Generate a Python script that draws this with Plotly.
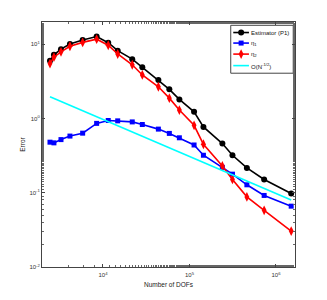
import plotly.graph_objects as go

dofs = [2440, 2710, 3270, 4150, 5820, 8450, 11500, 14800, 21800, 28500,
        43700, 58500, 76400, 113000, 145000, 240000, 314000, 461000, 730000, 1500000]
estimator = [6.0, 7.2, 8.6, 10.1, 11.4, 12.7, 10.5, 8.2, 6.3, 4.9,
             3.3, 2.47, 1.81, 1.23, 0.77, 0.46, 0.32, 0.216, 0.151, 0.0975]
eta1 = [0.48, 0.47, 0.52, 0.58, 0.635, 0.86, 0.94, 0.93, 0.90, 0.83,
        0.72, 0.63, 0.55, 0.44, 0.32, 0.22, 0.178, 0.128, 0.092, 0.066]
eta2 = [5.5, 6.7, 7.9, 9.4, 10.6, 11.7, 9.7, 7.4, 5.3, 3.86,
        2.68, 1.88, 1.30, 0.81, 0.45, 0.23, 0.151, 0.088, 0.058, 0.0305]
ref_x = [2440, 1500000]
ref_y = [1.96, 0.080]

series_names = ["Estimator (P1)", "η<sub>1</sub>", "η<sub>2</sub>", "O(N<sup>-1/2</sup>)"]
series_colors = ["black", "#0000ff", "#ff0000", "#00ffff"]
series_symbols = ["circle", "square", "diamond-tall", None]
series_sizes = [6, 5, 7, 0]

x_tickvals = [1e4, 1e5, 1e6]
x_ticktext = ["10<sup>4</sup>", "10<sup>5</sup>", "10<sup>6</sup>"]
y_tickvals = [1e-2, 1e-1, 1e0, 1e1]
y_ticktext = ["10<sup>-2</sup>", "10<sup>-1</sup>", "10<sup>0</sup>", "10<sup>1</sup>"]

FONT = "Liberation Sans, Arial, sans-serif"

fig = go.Figure()
data_y = [estimator, eta1, eta2]
for i in range(3):
    fig.add_trace(go.Scatter(x=dofs, y=data_y[i], mode="lines+markers", name=series_names[i],
                             line=dict(color=series_colors[i], width=1.6),
                             marker=dict(symbol=series_symbols[i], size=series_sizes[i],
                                         color=series_colors[i]),
                             showlegend=False))
fig.add_trace(go.Scatter(x=ref_x, y=ref_y, mode="lines", name=series_names[3],
                         line=dict(color=series_colors[3], width=1.6), showlegend=False))

# --- custom compact legend (paper-like overlay axes) ---
leg_x0, leg_x1 = 0.746, 0.993
leg_y0, leg_y1 = 0.791, 0.9865
row_y = [0.957, 0.914, 0.869, 0.822]
samp_x0, samp_x1, samp_xm = 0.756, 0.818, 0.787
text_x = 0.822

fig.add_shape(type="rect", xref="paper", yref="paper", x0=leg_x0, x1=leg_x1,
              y0=leg_y0, y1=leg_y1, line=dict(color="#444444", width=1),
              fillcolor="white", layer="below")
for i in range(4):
    fig.add_trace(go.Scatter(x=[samp_x0, samp_x1], y=[row_y[i], row_y[i]], mode="lines",
                             line=dict(color=series_colors[i], width=1.6),
                             xaxis="x2", yaxis="y2", showlegend=False, hoverinfo="skip",
                             cliponaxis=False))
    if series_symbols[i]:
        fig.add_trace(go.Scatter(x=[samp_xm], y=[row_y[i]], mode="markers",
                                 marker=dict(symbol=series_symbols[i], size=series_sizes[i],
                                             color=series_colors[i]),
                                 xaxis="x2", yaxis="y2", showlegend=False, hoverinfo="skip",
                                 cliponaxis=False))
    fig.add_annotation(x=text_x, y=row_y[i], xref="paper", yref="paper",
                       text=series_names[i], showarrow=False, xanchor="left",
                       yanchor="middle", borderpad=0,
                       font=dict(family=FONT, size=6, color="#111111"))

axis_common = dict(type="log", showgrid=False, zeroline=False, showline=True,
                   linecolor="#444444", linewidth=1, mirror="ticks", ticks="inside",
                   ticklen=3, tickcolor="#444444",
                   tickfont=dict(family=FONT, size=6, color="#333333"),
                   minor=dict(ticks="inside", ticklen=2, tickcolor="#666666", showgrid=False))

fig.update_layout(
    xaxis=dict(**axis_common, range=[3.295, 6.22], tickvals=x_tickvals, ticktext=x_ticktext,
               ticklabelstandoff=2,
               title=dict(text="Number of DOFs", font=dict(family=FONT, size=6.5, color="#222222"),
                          standoff=5)),
    yaxis=dict(**axis_common, range=[-2, 1.3], tickvals=y_tickvals, ticktext=y_ticktext,
               title=dict(text="Error", font=dict(family=FONT, size=6.5, color="#222222"),
                          standoff=3)),
    xaxis2=dict(overlaying="x", range=[0, 1], visible=False, fixedrange=True),
    yaxis2=dict(overlaying="y", range=[0, 1], visible=False, fixedrange=True),
    width=311, height=284,
    margin=dict(l=34, r=24, t=14, b=25, autoexpand=False),
    paper_bgcolor="white", plot_bgcolor="white",
    showlegend=False,
)

fig.write_html("out.html")
